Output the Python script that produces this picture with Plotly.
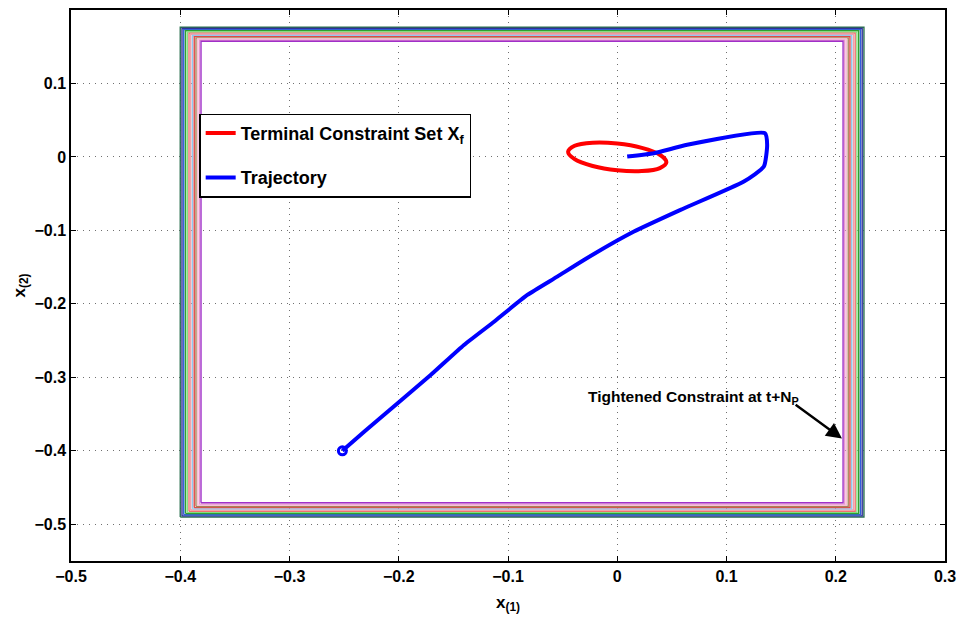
import plotly.graph_objects as go

# ---------------- data ----------------
# Tightened constraint sets (outermost -> innermost)
set_xmin = [-0.4000, -0.3984, -0.3968, -0.3952, -0.3936, -0.3920, -0.3904, -0.3888, -0.3872, -0.3856, -0.3840, -0.3824, -0.3810]
set_xmax = [0.2258, 0.2242, 0.2226, 0.2210, 0.2194, 0.2178, 0.2162, 0.2146, 0.2130, 0.2114, 0.2098, 0.2082, 0.2067]
set_ymin = [-0.4902, -0.4886, -0.4870, -0.4854, -0.4838, -0.4822, -0.4806, -0.4790, -0.4774, -0.4758, -0.4742, -0.4726, -0.4707]
set_ymax = [0.1765, 0.1749, 0.1733, 0.1717, 0.1701, 0.1685, 0.1669, 0.1653, 0.1637, 0.1621, 0.1605, 0.1589, 0.1575]
set_colors = ['#2a7050', '#30309a', '#3060d8', '#30a030', '#80e080', '#f07070', '#f0a0a8',
              '#90c8f0', '#e04848', '#a88058', '#f8c0d8', '#e898d0', '#a030c8']

# Terminal constraint set X_f (ellipse outline points)
xf_x = [0.045, 0.039, 0.0225, 0.0, -0.0225, -0.039, -0.045, -0.039, -0.0225, 0.0, 0.0225, 0.039, 0.045]
xf_y = [-0.007, 0.0030, 0.0123, 0.0182, 0.0193, 0.0152, 0.007, -0.0030, -0.0123, -0.0182, -0.0193, -0.0152, -0.007]

# Closed-loop trajectory
traj_x = [-0.2516, -0.2317, -0.2013, -0.1708, -0.1403, -0.1128, -0.0823, -0.0549, -0.0305,
          0.0153, 0.0579, 0.1159, 0.1342, 0.1372, 0.1351, 0.0640, 0.0336, 0.0091]
traj_y = [-0.4000, -0.3740, -0.3356, -0.2969, -0.2560, -0.2243, -0.1879, -0.1629, -0.1402,
          -0.1016, -0.0721, -0.0335, -0.0131, 0.0165, 0.0323, 0.0165, 0.0050, 0.0005]

x_ticks = [-0.5, -0.4, -0.3, -0.2, -0.1, 0, 0.1, 0.2, 0.3]
x_tick_labels = ['\u22120.5', '\u22120.4', '\u22120.3', '\u22120.2', '\u22120.1', '0', '0.1', '0.2', '0.3']
y_ticks = [-0.5, -0.4, -0.3, -0.2, -0.1, 0, 0.1]
y_tick_labels = ['\u22120.5', '\u22120.4', '\u22120.3', '\u22120.2', '\u22120.1', '0', '0.1']

FONT = 'Liberation Sans, Arial, Helvetica, sans-serif'

fig = go.Figure()

for xmin, xmax, ymin, ymax, c in zip(set_xmin, set_xmax, set_ymin, set_ymax, set_colors):
    fig.add_trace(go.Scatter(
        x=[xmin, xmax, xmax, xmin, xmin], y=[ymin, ymin, ymax, ymax, ymin],
        mode='lines', line=dict(color=c, width=1.4), showlegend=False, hoverinfo='skip'))

fig.add_trace(go.Scatter(
    x=xf_x, y=xf_y, mode='lines', line=dict(color='#ff0000', width=4, shape='spline'),
    name='Terminal Constraint Set X<sub>f</sub>', legendgroup='a'))

fig.add_trace(go.Scatter(
    x=traj_x, y=traj_y, mode='lines',
    line=dict(color='#0000ff', width=4, shape='spline', smoothing=0.5),
    name='Trajectory', legendgroup='b'))

fig.add_trace(go.Scatter(
    x=traj_x[:1], y=traj_y[:1], mode='markers',
    marker=dict(symbol='circle-open', size=8, color='#0000ff', line=dict(width=3, color='#0000ff')),
    showlegend=False, hoverinfo='skip'))

# annotation text and arrow
fig.add_annotation(x=-0.0285, y=-0.328, xref='x', yref='y', xanchor='left', yanchor='middle',
                   text='<b>Tightened Constraint at t+N<sub>P</sub></b>', showarrow=False,
                   font=dict(family=FONT, size=15.5, color='black'))
fig.add_annotation(x=0.2057, y=-0.3834, ax=0.1619, ay=-0.3358, xref='x', yref='y', axref='x', ayref='y',
                   text='', showarrow=True, arrowhead=2, arrowsize=1.3, arrowwidth=2.4, arrowcolor='black')

axis_common = dict(showline=True, linecolor='black', linewidth=1.5, mirror='ticks',
                   ticks='inside', ticklen=5, tickwidth=1, tickcolor='black',
                   showgrid=True, gridcolor='#707070', griddash='1px,5px', gridwidth=1,
                   zeroline=False,
                   tickfont=dict(family=FONT, size=16, color='black', weight='bold'))

fig.update_xaxes(range=[-0.5, 0.3], tickvals=x_ticks, ticktext=x_tick_labels,
                 title=dict(text='<b>x<sub>(1)</sub></b>', font=dict(family=FONT, size=17, color='black'), standoff=12),
                 **axis_common)
fig.update_yaxes(range=[-0.55, 0.2], tickvals=y_ticks, ticktext=y_tick_labels,
                 title=dict(text='<b>x<sub>(2)</sub></b>', font=dict(family=FONT, size=17, color='black'), standoff=5),
                 **axis_common)

fig.update_layout(
    width=964, height=628,
    margin=dict(l=71, r=16, t=8, b=67),
    paper_bgcolor='white', plot_bgcolor='white',
    font=dict(family=FONT, color='black'),
    legend=dict(x=0.147, y=0.812, xanchor='left', yanchor='top',
                bgcolor='white', bordercolor='black', borderwidth=1.2,
                font=dict(family=FONT, size=18, color='black', weight='bold'),
                tracegroupgap=18, itemwidth=30),
)

fig.write_html('out.html', config={'displayModeBar': False},
               post_script="document.body.style.margin='0';")
